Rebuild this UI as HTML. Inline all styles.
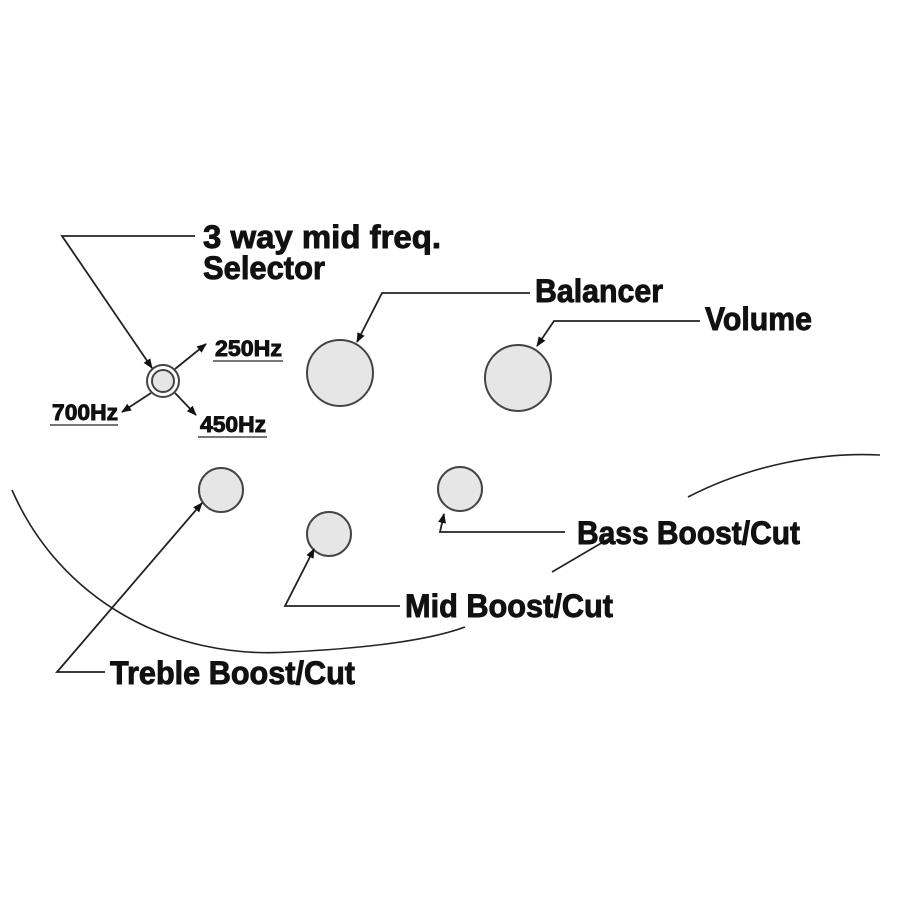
<!DOCTYPE html>
<html><head><meta charset="utf-8"><style>html,body{margin:0;padding:0;background:#fff}svg{display:block}
text{font-family:"Liberation Sans Narrow","Liberation Sans",sans-serif;font-weight:bold;fill:#111;stroke:#111;stroke-width:0.9}</style></head>
<body>
<svg width="900" height="900" viewBox="0 0 900 900">
<defs><marker id="a" markerWidth="10" markerHeight="8" refX="9" refY="4" orient="auto" markerUnits="userSpaceOnUse"><path d="M0,0 L10,4 L0,8 Z" fill="#111"/></marker></defs>
<g fill="none" stroke="#222" stroke-width="1.6">
<path d="M12,490 C60,600 170,660 290,652 C370,648 430,640 465,627"/>
<path d="M552,572 L610,538"/>
<path d="M688,497 C750,465 820,452 880,455"/>
</g>
<g fill="#e6e6e6" stroke="#444" stroke-width="2">
<circle cx="163" cy="381" r="16" fill="#fff"/>
<circle cx="163" cy="381" r="11"/>
<circle cx="340" cy="373" r="33"/>
<circle cx="518" cy="378" r="33"/>
<circle cx="221" cy="490" r="22"/>
<circle cx="329" cy="534" r="22"/>
<circle cx="460" cy="489" r="22"/>
</g>
<g fill="none" stroke="#222" stroke-width="1.8">
<path d="M195,236 L62,236 L152,368" marker-end="url(#a)"/>
<path d="M530,293 L382,293 L357,342" marker-end="url(#a)"/>
<path d="M700,321 L554,321 L537,346" marker-end="url(#a)"/>
<path d="M565,532 L440,532 L444,514" marker-end="url(#a)"/>
<path d="M400,606 L285,606 L314,549" marker-end="url(#a)"/>
<path d="M105,672 L57,672 L202,503" marker-end="url(#a)"/>
<path d="M175,369 L206,344" marker-end="url(#a)"/>
<path d="M151,393 L122,412" marker-end="url(#a)"/>
<path d="M175,393 L196,415" marker-end="url(#a)"/>
</g>
<g stroke="#777" stroke-width="2">
<line x1="213" y1="361" x2="283" y2="361"/>
<line x1="50" y1="425" x2="118" y2="425"/>
<line x1="198" y1="437" x2="267" y2="437"/>
</g>
<text x="215" y="356" font-size="22" textLength="67" lengthAdjust="spacingAndGlyphs">250Hz</text>
<text x="52" y="420" font-size="22" textLength="66" lengthAdjust="spacingAndGlyphs">700Hz</text>
<text x="200" y="432" font-size="22" textLength="66" lengthAdjust="spacingAndGlyphs">450Hz</text>
<text x="203" y="248" font-size="32" textLength="238" lengthAdjust="spacingAndGlyphs">3 way mid freq.</text>
<text x="203" y="279" font-size="32" textLength="122" lengthAdjust="spacingAndGlyphs">Selector</text>
<text x="535" y="302" font-size="32" textLength="128" lengthAdjust="spacingAndGlyphs">Balancer</text>
<text x="705" y="330" font-size="32" textLength="107" lengthAdjust="spacingAndGlyphs">Volume</text>
<text x="577" y="544" font-size="32" textLength="223" lengthAdjust="spacingAndGlyphs">Bass Boost/Cut</text>
<text x="405" y="617" font-size="32" textLength="208" lengthAdjust="spacingAndGlyphs">Mid Boost/Cut</text>
<text x="110" y="684" font-size="32" textLength="245" lengthAdjust="spacingAndGlyphs">Treble Boost/Cut</text>
</svg>
</body></html>
